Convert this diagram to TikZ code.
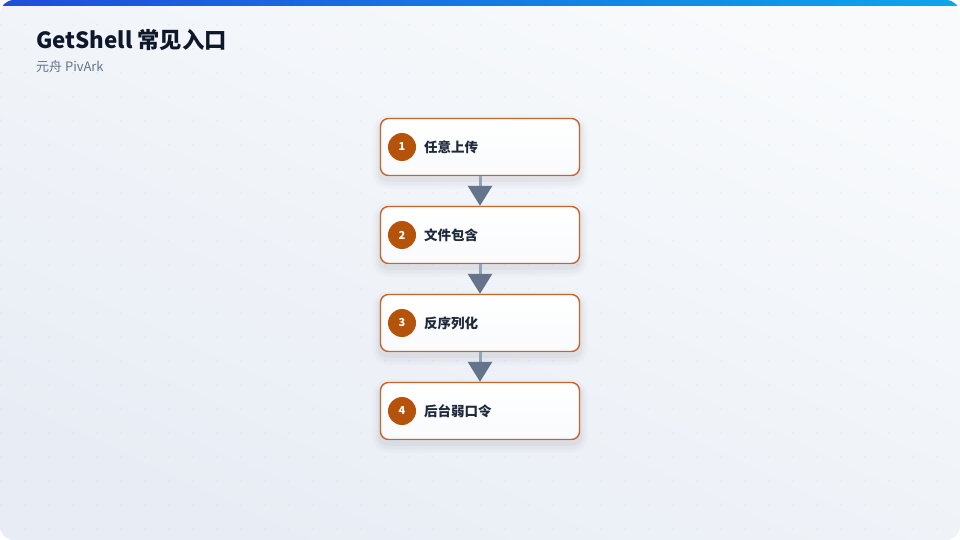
\documentclass[tikz,border=0pt]{standalone}
\usepackage{fontspec}
\setmainfont{Noto Sans CJK SC}
\usetikzlibrary{arrows.meta}
\definecolor{titlec}{HTML}{0F172A}
\definecolor{subc}{HTML}{64748B}
\definecolor{textc}{HTML}{1E293B}
\definecolor{borderc}{HTML}{C2652F}
\definecolor{badgec}{HTML}{B45309}
\definecolor{shaftc}{HTML}{94A3B8}
\definecolor{headc}{HTML}{64748B}
\definecolor{bgtop}{HTML}{F8FAFC}
\definecolor{bgbot}{HTML}{E8EDF5}
\definecolor{barl}{HTML}{1D4ED8}
\definecolor{barr}{HTML}{0EA5E9}
\definecolor{dotc}{HTML}{CBD5E1}
\definecolor{boxbot}{HTML}{F8FAFC}
\tikzset{
  stepbox/.style={draw=borderc, line width=1.4pt, rounded corners=8pt,
    minimum width=199pt, minimum height=57pt, inner sep=0pt,
    top color=white, bottom color=boxbot,
    preaction={draw=black, draw opacity=0.02, line width=16pt, transform canvas={yshift=-5pt}},
    preaction={draw=black, draw opacity=0.025, line width=10pt, transform canvas={yshift=-5pt}},
    preaction={draw=black, draw opacity=0.03, line width=5pt, transform canvas={yshift=-4pt}}},
  badge/.style={circle, fill=badgec, minimum size=28pt, inner sep=0pt,
    text=white, font=\bfseries\fontsize{11}{13}\selectfont},
  steplabel/.style={anchor=west, inner sep=0pt, text=textc,
    font=\bfseries\fontsize{13.5}{16}\selectfont},
  flow/.style={draw=shaftc, line width=3pt,
    -{Triangle[length=20pt, width=24pt, color=headc]}}
}
\begin{document}
\begin{tikzpicture}[x=1pt, y=-1pt]
\useasboundingbox (0,0) rectangle (960,540);
\fill[white] (0,0) rectangle (960,540);
\begin{scope}
\clip[rounded corners=14pt] (0,0) rectangle (960,540);
\shade[shading=axis, top color=bgtop, bottom color=bgbot, shading angle=-25] (0,0) rectangle (960,540);
\foreach \i in {0,...,40} {
  \foreach \j in {0,...,22} {
    \fill[dotc, opacity=0.3] (1+24*\i, 1+24*\j) circle (1pt);
  }
}
\shade[left color=barl, right color=barr] (0,0) rectangle (960,6);
\end{scope}

\node[anchor=base west, inner sep=0pt, text=titlec, font=\bfseries\fontsize{22.3}{26}\selectfont] (title) at (36,49) {GetShell 常见入口};
\node[anchor=base west, inner sep=0pt, text=subc, font=\fontsize{13}{15}\selectfont] (sub) at (36,72) {元舟 PivArk};

\node[stepbox] (b1) at (480,147) {};
\node[stepbox] (b2) at (480,235) {};
\node[stepbox] (b3) at (480,323) {};
\node[stepbox] (b4) at (480,411) {};

\node[badge] (n1) at (402,147) {1};
\node[badge] (n2) at (402,235) {2};
\node[badge] (n3) at (402,323) {3};
\node[badge] (n4) at (402,411) {4};

\node[steplabel] (l1) at (424,147) {任意上传};
\node[steplabel] (l2) at (424,235) {文件包含};
\node[steplabel] (l3) at (424,323) {反序列化};
\node[steplabel] (l4) at (424,411) {后台弱口令};

\draw[flow] (b1.south) -- (b2.north);
\draw[flow] (b2.south) -- (b3.north);
\draw[flow] (b3.south) -- (b4.north);
\end{tikzpicture}
\end{document}
